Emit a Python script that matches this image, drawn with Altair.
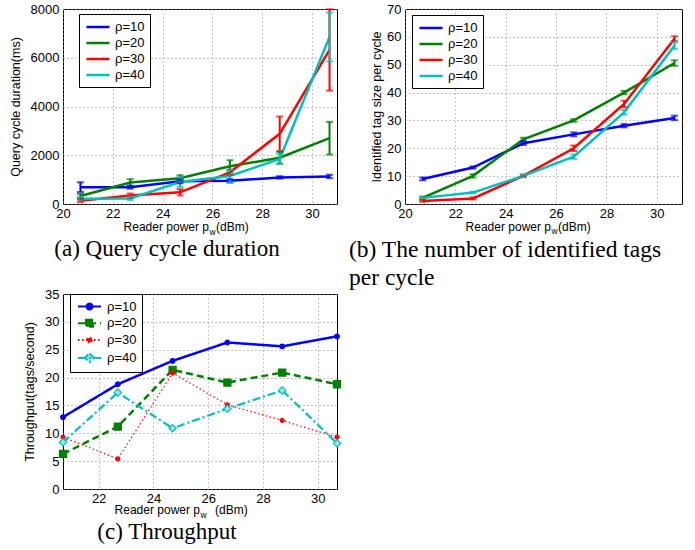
import altair as alt
import pandas as pd

# ---------------- data ----------------
power = [20.7, 22.7, 24.7, 26.7, 28.7, 30.7]
series = ["ρ=10", "ρ=20", "ρ=30", "ρ=40"]
colors = ["#0000ff", "#008000", "#ff0000", "#00bfbf"]

# (a) query cycle duration (ms): mean and half error
dur_10 = [690, 690, 930, 950, 1090, 1130]
dur_20 = [330, 880, 1060, 1545, 1900, 2700]
dur_30 = [130, 350, 480, 1300, 2880, 6320]
dur_40 = [220, 230, 900, 1150, 1850, 6850]
dur_10_err = [200, 60, 80, 70, 50, 70]
dur_20_err = [80, 140, 120, 250, 240, 670]
dur_30_err = [60, 80, 130, 100, 710, 1670]
dur_40_err = [80, 70, 200, 260, 210, 1000]

# (b) identified tags per cycle
tags_10 = [9.0, 13.1, 21.8, 25.0, 28.1, 30.9]
tags_20 = [2.2, 10.1, 23.2, 30.0, 40.0, 50.6]
tags_30 = [1.1, 2.0, 10.1, 20.0, 35.9, 59.3]
tags_40 = [2.2, 4.1, 10.1, 17.0, 32.9, 56.8]
tags_10_err = [0.5, 0.4, 0.6, 0.7, 0.6, 0.8]
tags_20_err = [0.5, 0.6, 0.6, 0.5, 0.6, 1.0]
tags_30_err = [0.3, 0.4, 0.4, 1.0, 1.2, 0.9]
tags_40_err = [0.3, 0.3, 0.5, 0.8, 0.8, 1.2]

# (c) throughput (tags/second)
thr_10 = [12.9, 18.8, 23.0, 26.3, 25.6, 27.4]
thr_20 = [6.3, 11.2, 21.4, 19.1, 20.9, 18.8]
thr_30 = [9.3, 5.4, 20.8, 15.1, 12.3, 9.3]
thr_40 = [8.4, 17.3, 10.9, 14.4, 17.7, 8.2]

x_ticks_ab = [20, 22, 24, 26, 28, 30]
x_ticks_c = [22, 24, 26, 28, 30]
y_ticks_a = [0, 2000, 4000, 6000, 8000]
y_ticks_b = [0, 10, 20, 30, 40, 50, 60, 70]
y_ticks_c = [0, 5, 10, 15, 20, 25, 30, 35]


def long_df(means, errs=None):
    rows = []
    for k, s in enumerate(series):
        for i, p in enumerate(power):
            r = {"power": p, "series": s, "value": means[k][i]}
            if errs is not None:
                r["lo"] = means[k][i] - errs[k][i]
                r["hi"] = means[k][i] + errs[k][i]
            rows.append(r)
    return pd.DataFrame(rows)


df_a = long_df([dur_10, dur_20, dur_30, dur_40],
               [dur_10_err, dur_20_err, dur_30_err, dur_40_err])
df_b = long_df([tags_10, tags_20, tags_30, tags_40],
               [tags_10_err, tags_20_err, tags_30_err, tags_40_err])
df_c = long_df([thr_10, thr_20, thr_30, thr_40])

SANS = "Liberation Sans"
SERIF = "Liberation Serif"
W_A, W_B, W_C = 274, 277, 274
H = 195
LEG_LINE_AB = "M-0.85,0L2.69,0"
LEG_LINE_C = "M-0.69,0L2.85,0"


def text_layer(txt, x, y, size, font=SANS, align="left", line_height=None):
    kw = dict(text=txt, font=font, fontSize=size, align=align, baseline="alphabetic", color="black")
    if line_height is not None:
        kw["lineHeight"] = line_height
    return alt.Chart(alt.Data(values=[{"k": 1}])).mark_text(**kw).encode(
        x=alt.value(x), y=alt.value(y))


def xtitle_layers(p_end, dbm_start, base_y, sub_y):
    return [
        text_layer("Reader power p", p_end, base_y, 12, align="right"),
        text_layer("w", p_end + 0.5, sub_y, 8.5),
        text_layer("(dBm)", dbm_start, base_y, 12),
    ]


def err_panel(df, W, ydom, yticks, ytitle, title_pad, leg_x, leg_y, extra):
    xs = dict(scale=alt.Scale(domain=[20, 31], nice=False, zero=False),
              axis=alt.Axis(values=x_ticks_ab, title=None, format="d", labelPadding=3))
    yax = alt.Axis(values=yticks, title=ytitle, format="d", titlePadding=title_pad)
    ysc = alt.Scale(domain=ydom, nice=False, zero=False)
    col_leg = alt.Color("series:N", scale=alt.Scale(domain=series, range=colors),
                        legend=alt.Legend(orient="none", legendX=leg_x, legendY=leg_y, title=None,
                                          symbolType=LEG_LINE_AB, symbolStrokeWidth=2.5,
                                          symbolSize=169, labelFontSize=13, labelFont=SANS,
                                          labelColor="black", padding=5, rowPadding=1,
                                          strokeColor="black", fillColor="white",
                                          labelOffset=15))
    col = alt.Color("series:N", scale=alt.Scale(domain=series, range=colors), legend=None)
    base = alt.Chart(df)
    lines = base.mark_line(strokeWidth=2.5).encode(
        x=alt.X("power:Q", **xs), y=alt.Y("value:Q", scale=ysc, axis=yax), color=col_leg,
        detail="series:N")
    bars = base.mark_rule(strokeWidth=2).encode(
        x=alt.X("power:Q", **xs), y=alt.Y("lo:Q", scale=ysc, axis=yax), y2="hi:Q", color=col)
    cap_lo = base.mark_tick(orient="horizontal", size=7, thickness=2).encode(
        x=alt.X("power:Q", **xs), y=alt.Y("lo:Q", scale=ysc, axis=yax), color=col)
    cap_hi = base.mark_tick(orient="horizontal", size=7, thickness=2).encode(
        x=alt.X("power:Q", **xs), y=alt.Y("hi:Q", scale=ysc, axis=yax), color=col)
    return alt.layer(lines, bars, cap_lo, cap_hi, *extra).properties(width=W, height=H)


# ---- panel (a)
pa = err_panel(df_a, W_A, [0, 8000], y_ticks_a, "Query cycle duration(ms)", 8, 16, 5,
               xtitle_layers(146, 153, 222, 226) +
               [text_layer("(a) Query cycle duration", 104, 247, 23, font=SERIF, align="center")])

# ---- panel (b)
pb = err_panel(df_b, W_B, [0, 70], y_ticks_b, "Identified tag size per cycle", 3, 7, 6,
               xtitle_layers(146, 153, 222, 225) +
               [text_layer(["(b) The number of identified tags", "per cycle"], -56, 248, 23.5,
                           font=SERIF, align="left", line_height=28)])

# ---- panel (c)
dashes = [[1, 0], [7, 4], [1.5, 2.5], [8, 3, 2, 3]]
widths = [2.5, 2.5, 1.2, 2.2]
shapes = ["circle", "square", "circle", "diamond"]
msizes = [22, 50, 16, 55]
mfills = ["#0000ff", "#008000", "#ff0000", "#9fe3e3"]
leg_paths = [
    LEG_LINE_C + "M1.54,0A0.46,0.46,0,1,1,0.62,0A0.46,0.46,0,1,1,1.54,0Z",
    LEG_LINE_C + "M0.54,-0.54L1.62,-0.54L1.62,0.54L0.54,0.54Z",
    LEG_LINE_C + "M1.46,0A0.38,0.38,0,1,1,0.7,0A0.38,0.38,0,1,1,1.46,0Z",
    LEG_LINE_C + "M1.08,-0.7L1.78,0L1.08,0.7L0.38,0Z",
]

xc = dict(scale=alt.Scale(domain=[20.7, 30.7], nice=False, zero=False),
          axis=alt.Axis(values=x_ticks_c, title=None, format="d", labelPadding=3))
yc = dict(scale=alt.Scale(domain=[0, 35], nice=False, zero=False),
          axis=alt.Axis(values=y_ticks_c, title="Throughput(tags/second)", format="d",
                        titlePadding=8))
base_c = alt.Chart(df_c)
c_layers = []
for k, s in enumerate(series):
    c_layers.append(base_c.transform_filter(alt.datum.series == s).mark_line(
        color=colors[k], strokeWidth=widths[k], strokeDash=dashes[k]).encode(
        x=alt.X("power:Q", **xc), y=alt.Y("value:Q", **yc)))
for k, s in enumerate(series):
    c_layers.append(base_c.transform_filter(alt.datum.series == s).mark_point(
        shape=shapes[k], size=msizes[k], filled=True, fill=mfills[k], stroke=colors[k],
        strokeWidth=1.2, opacity=1).encode(
        x=alt.X("power:Q", **xc), y=alt.Y("value:Q", **yc)))

leg_c = alt.Legend(orient="none", legendX=7, legendY=0, title=None, labelFontSize=13,
                   labelFont=SANS, labelColor="black", padding=5, rowPadding=0.8,
                   strokeColor="black", fillColor="white", labelOffset=17,
                   symbolStrokeWidth=2, symbolSize=169)
legend_layer = base_c.transform_filter("false").mark_point(size=169, filled=True, opacity=1,
                                                          strokeWidth=2).encode(
    shape=alt.Shape("series:N", scale=alt.Scale(domain=series, range=leg_paths), legend=leg_c),
    stroke=alt.Stroke("series:N", scale=alt.Scale(domain=series, range=colors), legend=leg_c),
    fill=alt.Fill("series:N", scale=alt.Scale(domain=series, range=mfills), legend=leg_c),
    strokeDash=alt.StrokeDash("series:N", scale=alt.Scale(domain=series, range=dashes),
                              legend=leg_c),
)
c_extra = [
    text_layer("Reader power p", 137, 220, 12, align="right"),
    text_layer("w", 137.5, 224, 8.5),
    text_layer("(dBm)", 152, 220, 12),
    text_layer("(c) Throughput", 104, 245, 23, font=SERIF, align="center"),
]
pc = alt.layer(*c_layers, legend_layer, *c_extra).properties(width=W_C, height=H)

chart = alt.concat(pa, pb, pc, columns=2, spacing={"row": 90, "column": 68},
                   bounds="flush", align="each").resolve_scale(
    color="independent", stroke="independent", fill="independent", shape="independent",
    strokeDash="independent").resolve_legend(
    color="independent", stroke="independent", fill="independent", shape="independent",
    strokeDash="independent").properties(
    padding={"left": 8, "top": 2, "right": 0, "bottom": 0},
    background="white",
).configure_view(stroke="black", strokeWidth=1).configure_axis(
    labelFont=SANS, labelFontSize=13, labelColor="black", titleFont=SANS, titleFontSize=12.5,
    titleFontWeight="normal", titleColor="black", domain=False, ticks=False, grid=True,
    gridColor="#8a8a8a", gridDash=[1, 3], gridWidth=1, labelFlush=False, labelOverlap=False,
).configure_axisY(labelPadding=4)

chart.save("out.html", embed_options={"renderer": "svg", "actions": False})
